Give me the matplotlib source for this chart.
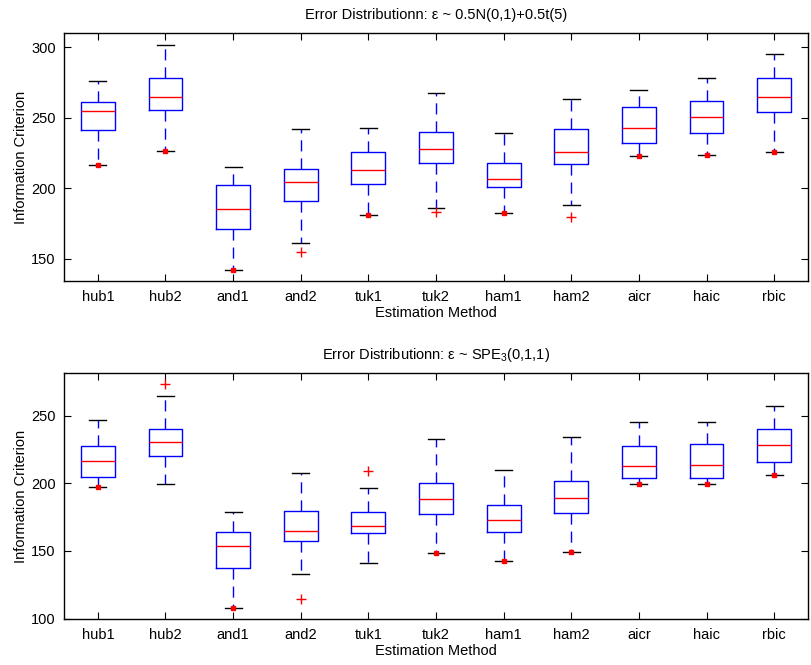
import matplotlib
matplotlib.use("Agg")
import matplotlib.pyplot as plt

plt.rcParams['font.family'] = ['Liberation Sans', 'DejaVu Sans']
plt.rcParams['mathtext.default'] = 'regular'
plt.rcParams['font.size'] = 10

methods = ["hub1", "hub2", "and1", "and2", "tuk1", "tuk2",
           "ham1", "ham2", "aicr", "haic", "rbic"]

# Panel 1: mixture of normal and t(5) errors
top_whislo = [216.3, 226.3, 142.1, 161.5, 181.2, 186.2, 182.4, 187.9, 222.7, 223.6, 225.8]
top_q1     = [241.2, 255.9, 170.8, 191.2, 202.8, 218.2, 200.9, 217.2, 232.2, 239.1, 254.5]
top_med    = [254.7, 264.9, 185.0, 204.2, 213.0, 227.9, 206.3, 225.5, 242.8, 250.9, 264.9]
top_q3     = [260.9, 278.0, 202.6, 214.0, 226.0, 239.8, 218.2, 241.9, 257.8, 261.8, 278.0]
top_whishi = [276.2, 301.8, 215.1, 242.1, 242.8, 267.3, 239.3, 263.5, 269.6, 278.4, 295.2]
top_fliers = [[], [], [], [154.9], [], [182.9], [], [179.8], [], [], []]
top_dots   = [216.3, 226.3, 142.1, None, 181.2, None, 182.4, None, 222.7, 223.6, 225.8]

# Panel 2: SPE_3(0,1,1) errors
bot_whislo = [197.1, 199.5, 107.7, 132.8, 141.4, 148.8, 142.4, 149.5, 199.3, 199.3, 206.4]
bot_q1     = [204.9, 220.0, 137.2, 157.2, 163.1, 177.6, 164.1, 178.1, 204.0, 204.2, 215.8]
bot_med    = [216.3, 230.3, 153.5, 165.0, 168.5, 188.2, 172.7, 189.2, 212.8, 213.3, 228.1]
bot_q3     = [227.4, 239.9, 164.3, 179.8, 178.8, 200.0, 184.2, 201.7, 227.6, 229.3, 240.0]
bot_whishi = [246.8, 264.8, 178.8, 207.4, 196.4, 232.6, 209.7, 234.5, 245.3, 245.6, 257.2]
bot_fliers = [[], [273.4], [], [114.8], [209.1], [], [], [], [], [], []]
bot_dots   = [197.1, None, 107.7, None, None, 148.8, 142.4, 149.5, 199.3, 199.3, 206.4]

top_title = "Error Distributionn: \u03b5 ~ 0.5N(0,1)+0.5t(5)"
bot_title = "Error Distributionn: \u03b5 ~ SPE$_3$(0,1,1)"

W, H = 812, 665
fig = plt.figure(figsize=(W / 100, H / 100), dpi=100)

def panel(rect, whislo, q1, med, q3, whishi, fliers, dots, title, ylim, yticks):
    ax = fig.add_axes(rect)
    stats = []
    for i in range(len(methods)):
        stats.append(dict(med=med[i], q1=q1[i], q3=q3[i], whislo=whislo[i],
                          whishi=whishi[i], fliers=fliers[i]))
    pos = list(range(1, len(methods) + 1))
    ax.bxp(stats, positions=pos, widths=0.5, showfliers=True,
           boxprops=dict(color='#0000ff', linewidth=1.0),
           medianprops=dict(color='#ff0000', linewidth=1.0),
           whiskerprops=dict(color='#0000ff', linewidth=1.0, linestyle=(0, (8, 5))),
           capprops=dict(color='black', linewidth=1.0),
           flierprops=dict(marker='+', markeredgecolor='#ff0000', markersize=7,
                           markeredgewidth=1.0, linestyle='none'))
    xs = [p for p, d in zip(pos, dots) if d is not None]
    ys = [d for d in dots if d is not None]
    ax.plot(xs, ys, linestyle='none', marker='s', markersize=2.5,
            color='#ff0000', zorder=5)
    ax.set_xlim(0.5, len(methods) + 0.5)
    ax.set_ylim(*ylim)
    ax.set_yticks(yticks)
    ax.set_xticks(pos)
    ax.set_xticklabels(methods)
    ax.tick_params(direction='in', length=5, width=0.8, top=True, right=True,
                   labelsize=10.5, pad=6)
    for s in ax.spines.values():
        s.set_linewidth(1.0)
    ax.set_xlabel("Estimation Method", fontsize=10.5, labelpad=2)
    ax.set_ylabel("Information Criterion", fontsize=10.5, labelpad=2)
    ax.set_title(title, fontsize=10.5, pad=10)
    return ax

left = 64 / W
width = 744 / W
panel([left, 1 - 281.3 / H, width, 248 / H], top_whislo, top_q1, top_med, top_q3,
      top_whishi, top_fliers, top_dots, top_title, (134, 310), [150, 200, 250, 300])
panel([left, 1 - 619.3 / H, width, 246.6 / H], bot_whislo, bot_q1, bot_med, bot_q3,
      bot_whishi, bot_fliers, bot_dots, bot_title, (99.5, 281.8), [100, 150, 200, 250])

fig.savefig("out.png", dpi=100)
